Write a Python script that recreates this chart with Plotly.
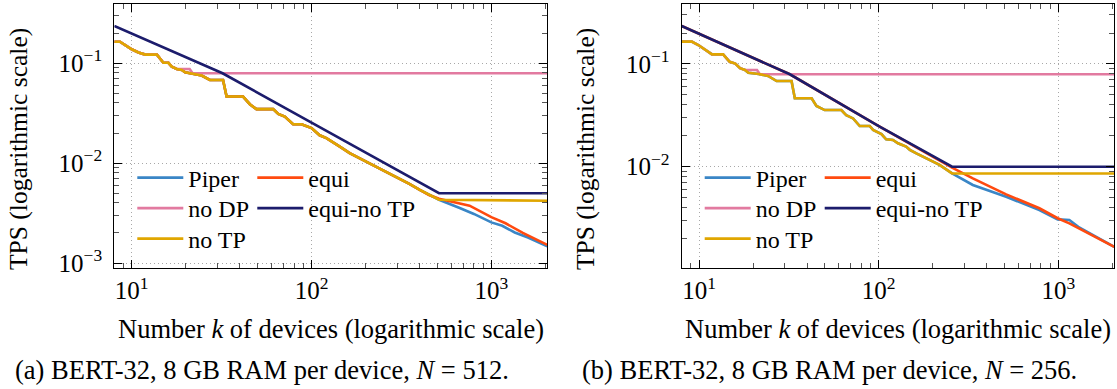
import plotly.graph_objects as go

# ---------------- data: (a) N = 512 ----------------
a_notp_x = [8, 8.6, 9.2, 10, 10.9, 11.9, 13.8, 14.4, 15, 16, 16.7, 17.8, 19, 19.8, 21.5, 24.5, 27.2,
            32.2, 33.7, 41.6, 45.4, 49.4, 61.2, 65.3, 71, 79, 88, 92, 100, 111, 121, 143, 153, 163,
            200, 250, 300, 350, 400, 450, 512, 2048]
a_notp_y = [0.164, 0.164, 0.152, 0.138, 0.128, 0.122, 0.122, 0.112, 0.101, 0.101, 0.0925, 0.0877, 0.0856,
            0.0813, 0.0794, 0.0752, 0.068, 0.068, 0.0464, 0.0464, 0.0389, 0.0347, 0.0347, 0.0311, 0.0292,
            0.0245, 0.0245, 0.0236, 0.0224, 0.0190, 0.0178, 0.0147, 0.0135, 0.0126, 0.0104, 0.0085,
            0.0071, 0.0062, 0.0054, 0.0048, 0.0043, 0.0042]
a_nodp_x = [8, 8.6, 9.2, 10, 10.9, 11.9, 13.8, 14.4, 15, 16, 16.7, 17.8, 21, 21.8, 2048]
a_nodp_y = [0.164, 0.164, 0.152, 0.138, 0.128, 0.122, 0.122, 0.112, 0.101, 0.101, 0.0925, 0.0877, 0.0877,
            0.0794, 0.0794]
a_equinotp_x = [8, 16, 32, 100, 512, 2048]
a_equinotp_y = [0.236, 0.136, 0.0794, 0.0254, 0.0050, 0.0050]
a_piper_tail_x = [512, 667, 800, 1000, 1150, 1350, 1600, 2048]
a_piper_tail_y = [0.0043, 0.00355, 0.0031, 0.00255, 0.00236, 0.00202, 0.00180, 0.00147]
a_equi_tail_x = [512, 600, 757, 1000, 1200, 1497, 2048]
a_equi_tail_y = [0.0044, 0.0041, 0.00375, 0.00288, 0.0025, 0.0020, 0.00152]

# ---------------- data: (b) N = 256 ----------------
b_notp_x = [8, 9.1, 9.9, 10.8, 11.8, 13.6, 14.8, 15.9, 16.9, 18, 18.8, 21.4, 24.2, 27, 32.7, 34.1, 42.3,
            45, 50, 61.9, 65.9, 72, 78.4, 89, 93, 103.5, 110, 120, 128, 142, 149, 162, 185, 218, 256, 2048]
b_notp_y = [0.165, 0.165, 0.153, 0.137, 0.124, 0.124, 0.105, 0.101, 0.091, 0.0874, 0.0823, 0.0799, 0.0764,
            0.0682, 0.0682, 0.0464, 0.0464, 0.039, 0.0356, 0.0356, 0.0318, 0.0295, 0.0249, 0.0249, 0.0228,
            0.0208, 0.0185, 0.0182, 0.0169, 0.0157, 0.0146, 0.0135, 0.0121, 0.0104, 0.0086, 0.0086]
b_nodp_x = [8, 9.1, 9.9, 10.8, 11.8, 13.6, 14.8, 15.9, 16.9, 18, 21, 21.8, 2048]
b_nodp_y = [0.165, 0.165, 0.153, 0.137, 0.124, 0.124, 0.105, 0.101, 0.091, 0.0874, 0.0874, 0.0794, 0.0794]
b_equinotp_x = [8, 32, 100, 256, 2048]
b_equinotp_y = [0.234, 0.0794, 0.0249, 0.0100, 0.0100]
b_piper_tail_x = [256, 334, 512, 784, 991, 1151, 1290, 2048]
b_piper_tail_y = [0.0086, 0.00664, 0.0051, 0.00378, 0.00307, 0.00303, 0.0026, 0.00166]
b_equi_tail_x = [256, 334, 512, 784, 991, 1151, 2048]
b_equi_tail_y = [0.0098, 0.0077, 0.00538, 0.00394, 0.00315, 0.00281, 0.00166]

x_ticks = [10, 100, 1000]
x_ticktext = ["10<sup>1</sup>", "10<sup>2</sup>", "10<sup>3</sup>"]
a_y_ticks = [0.001, 0.01, 0.1]
a_y_ticktext = ["10<sup>−3</sup>", "10<sup>−2</sup>", "10<sup>−1</sup>"]
b_y_ticks = [0.01, 0.1]
b_y_ticktext = ["10<sup>−2</sup>", "10<sup>−1</sup>"]

series_names = ["Piper", "equi", "no DP", "equi-no TP", "no TP"]
colors = {"Piper": "#3a86c6", "equi": "#ff4a0f", "no DP": "#e27aa0",
          "equi-no TP": "#1c1c6c", "no TP": "#e0a600"}

FONT = "Liberation Serif"
W, H = 1117, 389
PLOT_TOP, PLOT_BOT = 4, 268
PH = PLOT_BOT - PLOT_TOP


def ypaper(py):
    return (PLOT_BOT - py) / PH


def prefix(xs, ys, xmax):
    px = [x for x in xs if x < xmax]
    py = ys[:len(px)]
    return px, py


def panel_series(notp_x, notp_y, nodp_x, nodp_y, en_x, en_y, pt_x, pt_y, eq_x, eq_y, kink, equi_under):
    gx, gy = prefix(notp_x, notp_y, kink)
    piper = (gx + pt_x, gy + pt_y)
    if equi_under == "notp":
        equi = (gx + eq_x, gy + eq_y)
    else:
        ex, ey = prefix(en_x, en_y, kink)
        equi = (ex + eq_x, ey + eq_y)
    return {"Piper": piper, "equi": equi, "no DP": (nodp_x, nodp_y),
            "equi-no TP": (en_x, en_y), "no TP": (notp_x, notp_y)}


panels = [
    panel_series(a_notp_x, a_notp_y, a_nodp_x, a_nodp_y, a_equinotp_x, a_equinotp_y,
                 a_piper_tail_x, a_piper_tail_y, a_equi_tail_x, a_equi_tail_y, 512, "notp"),
    panel_series(b_notp_x, b_notp_y, b_nodp_x, b_nodp_y, b_equinotp_x, b_equinotp_y,
                 b_piper_tail_x, b_piper_tail_y, b_equi_tail_x, b_equi_tail_y, 256, "equinotp"),
]

dom_a = [114.3 / W, 547.3 / W]
dom_b = [681.7 / W, 1114.3 / W]
plot_left = [114.3, 681.7]

leg_slot = {"Piper": (23.0, 178.0), "no DP": (23.0, 208.5), "no TP": (23.0, 239.0),
            "equi": (143.0, 178.0), "equi-no TP": (143.0, 208.5)}

fig = go.Figure()
leg_layout = {}
k = 0
for p, data in enumerate(panels):
    for name in series_names:
        xs, ys = data[name]
        k += 1
        lg = "legend" if k == 1 else f"legend{k}"
        fig.add_trace(go.Scatter(
            x=xs, y=ys, mode="lines", name=name,
            line=dict(color=colors[name], width=2.6),
            xaxis="x" if p == 0 else "x2", yaxis="y" if p == 0 else "y2",
            legend=lg, showlegend=True))
        cx, ry = leg_slot[name]
        leg_layout[lg] = dict(bgcolor="rgba(255,255,255,0)", borderwidth=0, itemwidth=46,
                              font=dict(family=FONT, size=24, color="black"),
                              xanchor="left", yanchor="middle", orientation="v",
                              x=(plot_left[p] + cx - 5.0) / W, y=ypaper(ry))


def minor_vals(lo, hi):
    out = []
    for e in range(lo, hi + 1):
        for m in range(2, 10):
            out.append(m * 10 ** e)
    return out


common_axis = dict(type="log", ticks="inside", ticklen=8, tickwidth=1, tickcolor="black",
                   mirror="allticks", showline=True, linecolor="black", linewidth=1.2,
                   showgrid=True, gridcolor="#a8a8a8", griddash="1px,3px", gridwidth=1,
                   tickfont=dict(family=FONT, size=25, color="black"),
                   zeroline=False, automargin=False, tickmode="array")


def xaxis(dom, anchor):
    return dict(common_axis, domain=dom, anchor=anchor, range=[0.90309, 3.31133],
                tickvals=x_ticks, ticktext=x_ticktext,
                minor=dict(tickvals=minor_vals(0, 3), ticks="inside", ticklen=5,
                           tickcolor="#555555", tickwidth=1, showgrid=False))


def yaxis(anchor, rng, tv, tt):
    return dict(common_axis, domain=[0, 1], anchor=anchor, range=rng,
                tickvals=tv, ticktext=tt, ticklabelstandoff=6,
                minor=dict(tickvals=minor_vals(-4, 0), ticks="inside", ticklen=5,
                           tickcolor="#555555", tickwidth=1, showgrid=False))


fig.update_layout(
    width=W, height=H,
    margin=dict(l=0, r=0, t=PLOT_TOP, b=H - PLOT_BOT, autoexpand=False),
    paper_bgcolor="white", plot_bgcolor="white",
    font=dict(family=FONT, size=25, color="black"),
    xaxis=xaxis(dom_a, "y"),
    yaxis=yaxis("x", [-3.05, -0.407], a_y_ticks, a_y_ticktext),
    xaxis2=xaxis(dom_b, "y2"),
    yaxis2=yaxis("x2", [-2.986, -0.416], b_y_ticks, b_y_ticktext),
    showlegend=True,
    **leg_layout,
)

ann = []
for cx in [18, 585]:
    ann.append(dict(text="TPS (logarithmic scale)", x=cx / W, y=ypaper(149), xref="paper", yref="paper",
                    textangle=-90, showarrow=False, xanchor="center", yanchor="middle",
                    font=dict(family=FONT, size=25.5, color="black")))
for cx in [(114.3 + 547.3) / 2, (681.7 + 1114.3) / 2]:
    ann.append(dict(text="Number <i>k</i> of devices (logarithmic scale)", x=cx / W, y=ypaper(329),
                    xref="paper", yref="paper", showarrow=False, xanchor="center", yanchor="middle",
                    font=dict(family=FONT, size=26.5, color="black")))
for cx, txt in [(262, "(a) BERT-32, 8 GB RAM per device, <i>N</i> = 512."),
                (829, "(b) BERT-32, 8 GB RAM per device, <i>N</i> = 256.")]:
    ann.append(dict(text=txt, x=cx / W, y=ypaper(370), xref="paper", yref="paper",
                    showarrow=False, xanchor="center", yanchor="middle",
                    font=dict(family=FONT, size=26.5, color="black")))
fig.update_layout(annotations=ann)

fig.write_html("out.html", config={"displayModeBar": False},
               post_script="document.body.style.margin='0';document.body.style.padding='0';")
